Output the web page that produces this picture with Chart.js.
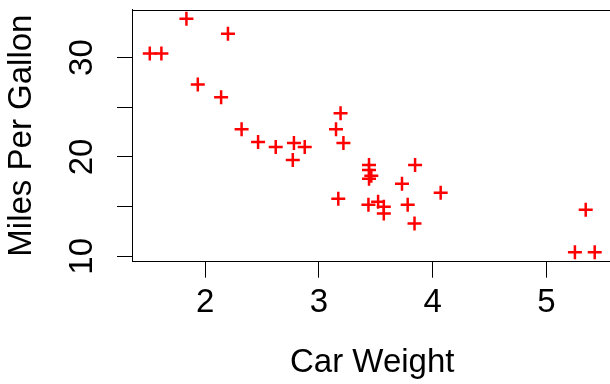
<!DOCTYPE html>
<html>
<head>
<meta charset="utf-8">
<script src="https://cdn.jsdelivr.net/npm/chart.js@4"></script>
<style>
  html, body { margin: 0; padding: 0; background: #fff; overflow: hidden; }
  #wrap { width: 622px; height: 384px; }
</style>
</head>
<body>
<div id="wrap"><canvas id="chart" width="622" height="384"></canvas></div>
<script>
// Car weight (1000 lbs) vs fuel economy
const carWeight = [2.620, 2.875, 2.320, 3.215, 3.440, 3.460, 3.570, 3.190, 3.150, 3.440, 3.440,
    4.070, 3.730, 3.780, 5.250, 5.424, 5.345, 2.200, 1.615, 1.835, 2.465, 3.520,
    3.435, 3.840, 3.845, 1.935, 2.140, 1.513, 3.170, 2.770, 3.570, 2.780];
const milesPerGallon = [21.0, 21.0, 22.8, 21.4, 18.7, 18.1, 14.3, 24.4, 22.8, 19.2, 17.8,
    16.4, 17.3, 15.2, 10.4, 10.4, 14.7, 32.4, 30.4, 33.9, 21.5, 15.5,
    15.2, 13.3, 19.2, 27.3, 26.0, 30.4, 15.8, 19.7, 15.0, 21.4];
const xTicks = [2, 3, 4, 5];
const yTicks = [10, 15, 20, 25, 30];
const yLabels = [10, 20, 30];

const FONT = "'Liberation Sans', Arial, Helvetica, sans-serif";

// box line on top of the plot region (right side falls off the page)
const topBorder = {
    id: 'topBorder',
    afterDraw(chart) {
        const { ctx, chartArea } = chart;
        ctx.save();
        ctx.strokeStyle = '#000';
        ctx.lineWidth = 1;
        ctx.beginPath();
        ctx.moveTo(chartArea.left, Math.round(chartArea.top) + 0.5);
        ctx.lineTo(chartArea.right + 2, Math.round(chartArea.top) + 0.5);
        ctx.stroke();
        ctx.restore();
    }
};

function createChart() {
    const points = carWeight.map((w, i) => ({ x: w, y: milesPerGallon[i] }));
    const ctx = document.getElementById('chart').getContext('2d');
    new Chart(ctx, {
        type: 'scatter',
        data: {
            datasets: [{
                data: points,
                pointStyle: 'cross',
                pointRadius: 7,
                pointBorderWidth: 2.5,
                borderColor: '#ff0000',
                backgroundColor: '#ff0000'
            }]
        },
        options: {
            responsive: false,
            animation: false,
            events: [],
            layout: { padding: { top: 7, right: 2.3, left: 0, bottom: 0 } },
            plugins: { legend: { display: false }, tooltip: { enabled: false } },
            scales: {
                x: {
                    type: 'linear',
                    min: 1.3566,
                    max: 5.5804,
                    afterFit: s => { s.height = 122.3; s.paddingLeft = 0; s.paddingRight = 0; },
                    afterBuildTicks: s => { s.ticks = xTicks.map(v => ({ value: v })); },
                    grid: { drawOnChartArea: false, drawTicks: true, tickLength: 16, tickColor: '#000', tickWidth: 1 },
                    border: { display: true, color: '#000', width: 1 },
                    ticks: {
                        color: '#000',
                        padding: 5,
                        maxRotation: 0,
                        autoSkip: false,
                        font: { family: FONT, size: 33 }
                    },
                    title: {
                        display: true,
                        text: 'Car Weight',
                        color: '#000',
                        padding: { top: 0, bottom: 1 },
                        font: { family: FONT, size: 33 }
                    }
                },
                y: {
                    type: 'linear',
                    min: 9.46,
                    max: 34.84,
                    afterFit: s => { s.width = 132; s.paddingTop = 0; s.paddingBottom = 0; },
                    afterBuildTicks: s => { s.ticks = yTicks.map(v => ({ value: v })); },
                    grid: { drawOnChartArea: false, drawTicks: true, tickLength: 15, tickColor: '#000', tickWidth: 1 },
                    border: { display: true, color: '#000', width: 1 },
                    ticks: {
                        color: '#000',
                        padding: 15.5,
                        minRotation: 90,
                        maxRotation: 90,
                        crossAlign: 'center',
                        autoSkip: false,
                        font: { family: FONT, size: 33 },
                        callback: v => (yLabels.includes(v) ? String(v) : '')
                    },
                    title: {
                        display: true,
                        text: 'Miles Per Gallon',
                        color: '#000',
                        padding: { top: 2, bottom: 0 },
                        font: { family: FONT, size: 33 }
                    }
                }
            }
        },
        plugins: [topBorder]
    });
}

document.addEventListener('DOMContentLoaded', createChart);
</script>
</body>
</html>
